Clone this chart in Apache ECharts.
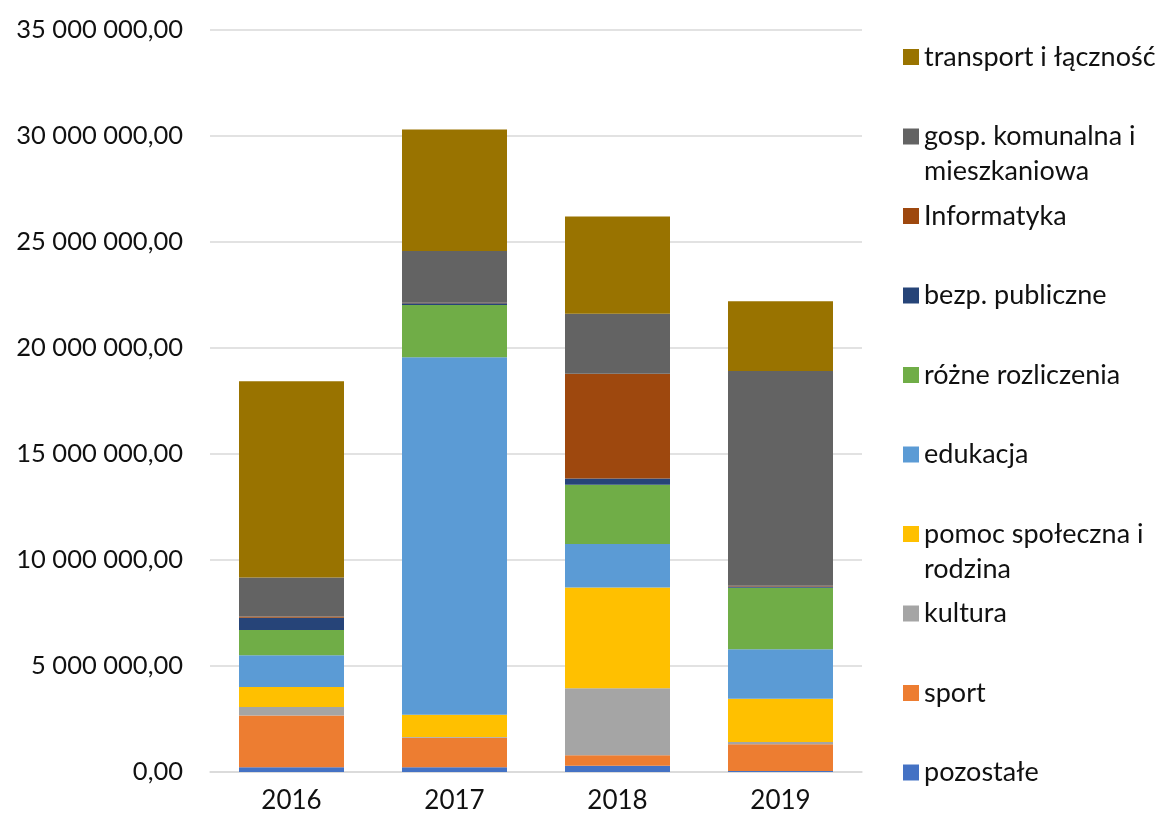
<!DOCTYPE html>
<html>
<head>
<meta charset="utf-8">
<script src="https://cdn.jsdelivr.net/npm/echarts@6/dist/echarts.min.js"></script>
<style>
    html, body { margin: 0; padding: 0; background: #fff; }
    #chart { width: 1162px; height: 820px; }
</style>
</head>
<body>
<div id="chart"></div>
<script>
    // lata
    var years = ['2016', '2017', '2018', '2019']
    // wartości w zł
    var pozostale = [220000, 220000, 300000, 50000]
    var sport = [2440000, 1400000, 490000, 1260000]
    var kultura = [410000, 30000, 3160000, 110000]
    var pomoc = [940000, 1050000, 4750000, 2030000]
    var edukacja = [1500000, 16860000, 2060000, 2340000]
    var rozne = [1190000, 2470000, 2790000, 2900000]
    var bezp = [580000, 80000, 300000, 60000]
    var informatyka = [50000, 20000, 4940000, 30000]
    var gosp = [1840000, 2450000, 2830000, 10140000]
    var transport = [9260000, 5730000, 4580000, 3290000]

    var names = ['pozostałe', 'sport', 'kultura', 'pomoc społeczna i rodzina', 'edukacja',
        'różne rozliczenia', 'bezp. publiczne', 'Informatyka', 'gosp. komunalna i mieszkaniowa', 'transport i łączność']
    var legendLabels = ['pozostałe', 'sport', 'kultura', 'pomoc społeczna i\nrodzina', 'edukacja',
        'różne rozliczenia', 'bezp. publiczne', 'Informatyka', 'gosp. komunalna i\nmieszkaniowa', 'transport i łączność']
    var colors = ['#4472C4', '#ED7D31', '#A5A5A5', '#FFC000', '#5B9BD5',
        '#70AD47', '#264478', '#9E480E', '#636363', '#997300']
    var values = [pozostale, sport, kultura, pomoc, edukacja, rozne, bezp, informatyka, gosp, transport]

    var font = 'Lato, "Open Sans", sans-serif'

    function fmt(v) {
        var s = Math.round(v).toString().replace(/\B(?=(\d{3})+(?!\d))/g, ' ')
        return s + ',00'
    }

    var series = names.map(function(n, i) {
        return {
            name: n,
            type: 'bar',
            stack: 'total',
            barWidth: 105,
            itemStyle: { color: colors[i] },
            data: values[i]
        }
    })

    // legenda: osobny komponent dla każdej pozycji (od góry: transport ... pozostałe)
    // przy dwóch liniach pusta linia na górze, żeby pierwsza linia była na wysokości kwadracika
    var legends = []
    for (var i = 0; i < names.length; i++) {
        var row = names.length - 1 - i
        var centerY = 57 + row * 79.5
        var twoLines = legendLabels[i].indexOf('\n') >= 0
        var label = twoLines ? ' \n' + legendLabels[i] : legendLabels[i]
        legends.push({
            data: [names[i]],
            left: 903,
            top: twoLines ? centerY - 52.5 : centerY - 17.5,
            orient: 'vertical',
            itemWidth: 16,
            itemHeight: 16,
            itemGap: 0,
            padding: 0,
            icon: 'rect',
            selectedMode: false,
            formatter: (function(lbl) { return function() { return lbl } })(label),
            textStyle: {
                fontFamily: font,
                fontSize: 27,
                color: '#111',
                lineHeight: 35
            }
        })
    }

    var chart = echarts.init(document.getElementById('chart'))
    var option = {
        animation: false,
        backgroundColor: '#fff',
        grid: {
            left: 210,
            right: 300,
            top: 30,
            bottom: 48
        },
        legend: legends,
        xAxis: {
            type: 'category',
            data: years,
            axisTick: { show: false },
            axisLine: { lineStyle: { color: '#d9d9d9', width: 1.5 } },
            axisLabel: {
                margin: 16,
                fontFamily: font,
                fontSize: 26,
                color: '#111'
            }
        },
        yAxis: {
            type: 'value',
            min: 0,
            max: 35000000,
            interval: 5000000,
            axisLine: { show: false },
            axisTick: { show: false },
            splitLine: { lineStyle: { color: '#d9d9d9', width: 1.5 } },
            axisLabel: {
                margin: 27,
                fontFamily: font,
                fontSize: 25.5,
                color: '#111',
                formatter: fmt
            }
        },
        series: series
    }
    chart.setOption(option)
</script>
</body>
</html>
